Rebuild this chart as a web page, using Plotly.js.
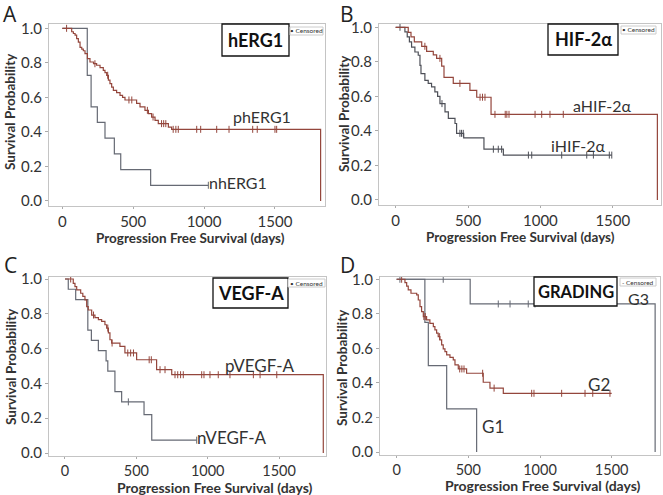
<!DOCTYPE html>
<html><head><meta charset="utf-8">
<script src="https://cdn.plot.ly/plotly-3.0.1.min.js"></script>
<style>html,body{margin:0;padding:0;background:#fff}#chart{width:663px;height:495px}</style>
</head><body><div id="chart"></div>
<script>
// ---------- Panel A: hERG1 ----------
const phERG1_t = [0, 66, 78, 90, 101, 113, 125, 137, 148, 160, 177, 195, 220, 242, 266, 289, 301, 313, 325, 336, 348, 360, 383, 407, 425, 442, 524, 548, 583, 607, 630, 654, 677, 748, 771, 1822];
const phERG1_s = [1, 0.98, 0.97, 0.96, 0.94, 0.92, 0.89, 0.88, 0.87, 0.853, 0.824, 0.805, 0.795, 0.786, 0.772, 0.757, 0.743, 0.728, 0.70, 0.68, 0.66, 0.641, 0.627, 0.612, 0.60, 0.585, 0.565, 0.545, 0.525, 0.506, 0.486, 0.467, 0.448, 0.428, 0.415, 0];
const phERG1_cens = [30, 230, 320, 470, 490, 600, 640, 700, 715, 730, 782, 801, 818, 948, 976, 1089, 1176, 1343, 1375, 1500, 1512];
const nhERG1_t = [0, 176, 203, 247, 301, 367, 412, 623, 1030];
const nhERG1_s = [1, 0.727, 0.545, 0.455, 0.364, 0.273, 0.182, 0.091, 0.091];
const nhERG1_cens = [1030];

// ---------- Panel B: HIF-2α ----------
const aHIF_t = [0, 87, 106, 129, 180, 214, 260, 283, 318, 334, 398, 513, 560, 659, 1808];
const aHIF_s = [1, 0.97, 0.945, 0.915, 0.89, 0.86, 0.84, 0.82, 0.775, 0.71, 0.675, 0.635, 0.595, 0.496, 0];
const aHIF_cens = [202, 306, 444, 583, 600, 617, 686, 757, 768, 783, 963, 1009, 1066, 1158];
const iHIF_t = [0, 64, 80, 95, 110, 133, 156, 168, 175, 202, 225, 248, 271, 290, 306, 341, 364, 410, 421, 470, 610, 744, 1493];
const iHIF_s = [1, 0.973, 0.945, 0.915, 0.885, 0.857, 0.838, 0.78, 0.732, 0.693, 0.675, 0.655, 0.626, 0.60, 0.558, 0.51, 0.472, 0.443, 0.386, 0.36, 0.294, 0.26, 0.26];
const iHIF_cens = [30, 320, 444, 455, 467, 675, 709, 732, 917, 940, 1147, 1320, 1366, 1476, 1493];

// ---------- Panel C: VEGF-A ----------
const pVEGF_t = [0, 58, 70, 82, 110, 125, 140, 152, 163, 187, 210, 234, 257, 280, 292, 304, 315, 327, 385, 420, 502, 642, 748, 1810];
const pVEGF_s = [1, 0.975, 0.956, 0.937, 0.918, 0.90, 0.88, 0.841, 0.822, 0.793, 0.778, 0.767, 0.756, 0.737, 0.718, 0.69, 0.651, 0.632, 0.613, 0.575, 0.536, 0.479, 0.45, 0];
const pVEGF_cens = [40, 200, 300, 330, 440, 460, 480, 590, 605, 666, 701, 771, 790, 810, 829, 958, 974, 1016, 1074, 1156, 1320, 1367, 1484];
const nVEGF_t = [0, 23, 75, 160, 185, 234, 288, 300, 350, 397, 554, 608, 923];
const nVEGF_s = [1, 0.941, 0.882, 0.706, 0.647, 0.588, 0.529, 0.471, 0.353, 0.294, 0.221, 0.074, 0.074];
const nVEGF_cens = [444, 923];

// ---------- Panel D: GRADING ----------
const G3_t = [0, 513, 1803];
const G3_s = [1, 0.857, 0];
const G3_cens = [23, 325, 709, 791, 918, 965];
const G1_t = [0, 197, 221, 349, 558];
const G1_s = [1, 0.75, 0.5, 0.25, 0];
const G1_cens = [];
const G2_t = [0, 58, 70, 81, 100, 140, 151, 163, 174, 186, 209, 232, 256, 267, 279, 290, 302, 314, 325, 337, 349, 372, 395, 407, 430, 488, 604, 651, 744, 1500];
const G2_s = [1, 0.98, 0.96, 0.938, 0.919, 0.909, 0.88, 0.841, 0.813, 0.784, 0.765, 0.745, 0.726, 0.707, 0.688, 0.668, 0.649, 0.62, 0.597, 0.581, 0.562, 0.548, 0.533, 0.504, 0.481, 0.456, 0.404, 0.37, 0.34, 0.34];
const G2_cens = [35, 190, 200, 300, 440, 455, 470, 600, 680, 942, 958, 1151, 1314, 1368, 1488];

const xTicks = [0, 500, 1000, 1500];
const yTicks = [0, 0.2, 0.4, 0.6, 0.8, 1.0];
const yTickText = ['0.0', '0.2', '0.4', '0.6', '0.8', '1.0'];

const RED = '#94463c', GRAY = '#666a74', DARK = '#4e5058';
const FONT = 'Lato, "Open Sans", sans-serif';

function survAt(t, s, c) {
  let v = s[0];
  for (let i = 0; i < t.length; i++) { if (t[i] <= c) v = s[i]; }
  return v;
}
const traces = [];
function km(t, s, cens, color, ax) {
  traces.push({x: t, y: s, xaxis: 'x' + ax, yaxis: 'y' + ax, type: 'scatter', mode: 'lines',
    line: {shape: 'hv', color: color, width: 1.2}, hoverinfo: 'skip'});
  if (cens.length) traces.push({x: cens, y: cens.map(c => survAt(t, s, c)), xaxis: 'x' + ax, yaxis: 'y' + ax,
    type: 'scatter', mode: 'markers',
    marker: {symbol: 'line-ns-open', size: 5, color: color, line: {color: color, width: 1}}, hoverinfo: 'skip'});
}
km(nhERG1_t, nhERG1_s, nhERG1_cens, GRAY, '');
km(phERG1_t, phERG1_s, phERG1_cens, RED, '');
km(iHIF_t, iHIF_s, iHIF_cens, DARK, '2');
km(aHIF_t, aHIF_s, aHIF_cens, RED, '2');
km(nVEGF_t, nVEGF_s, nVEGF_cens, GRAY, '3');
km(pVEGF_t, pVEGF_s, pVEGF_cens, RED, '3');
km(G3_t, G3_s, G3_cens, GRAY, '4');
km(G1_t, G1_s, G1_cens, GRAY, '4');
km(G2_t, G2_s, G2_cens, RED, '4');

const W = 663, H = 495;
const px = x => x / W, py = y => 1 - y / H;
function xax(l, r, range, fs) {
  return {domain: [px(l), px(r)], range: range, tickvals: xTicks, showgrid: false, zeroline: false,
    showline: true, mirror: true, linecolor: '#c4c4c4', linewidth: 1, ticks: 'outside', ticklen: 2,
    tickcolor: '#aaa', tickfont: {family: FONT, size: fs, color: '#333'}};
}
function yax(t, b, range, anchor) {
  return {domain: [py(b), py(t)], range: range, tickvals: yTicks, ticktext: yTickText, showgrid: false,
    zeroline: false, showline: true, mirror: true, linecolor: '#c4c4c4', linewidth: 1, ticks: 'outside',
    ticklen: 3, tickcolor: '#aaa', tickfont: {family: FONT, size: 15, color: '#333'}, anchor: anchor};
}
const layout = {
  width: W, height: H, margin: {l: 0, r: 0, t: 0, b: 0}, showlegend: false,
  paper_bgcolor: '#fff', plot_bgcolor: '#fff',
  xaxis: Object.assign(xax(49, 325, [-94, 1853], 15), {anchor: 'y'}),
  yaxis: yax(24, 206, [-0.029, 1.025], 'x'),
  xaxis2: Object.assign(xax(379, 661, [-115, 1833], 15), {anchor: 'y2'}),
  yaxis2: yax(24, 205, [-0.029, 1.019], 'x2'),
  xaxis3: Object.assign(xax(49, 326, [-112, 1829], 14.5), {anchor: 'y3'}),
  yaxis3: yax(277, 456, [-0.017, 1.0115], 'x3'),
  xaxis4: Object.assign(xax(380, 660, [-116, 1837], 14.5), {anchor: 'y4'}),
  yaxis4: yax(277, 455, [-0.017, 1.013], 'x4'),
  shapes: [], annotations: []
};
function box(l, t, r, b, color, w) {
  layout.shapes.push({type: 'rect', xref: 'paper', yref: 'paper', x0: px(l), x1: px(r), y0: py(b), y1: py(t),
    line: {color: color, width: w}, fillcolor: '#fff', layer: 'above'});
}
function txt(text, x, y, size, opts) {
  layout.annotations.push(Object.assign({text: text, x: px(x), y: py(y), xref: 'paper', yref: 'paper',
    xanchor: 'center', yanchor: 'middle', showarrow: false, borderpad: 0,
    font: {family: FONT, size: size, color: '#333'}}, opts || {}));
}
// panel letters
const LF = {family: '"Open Sans", sans-serif', size: 21, color: '#222'};
txt('A', 10, 14, 21, {font: LF});
txt('B', 347, 14, 21, {font: LF});
txt('C', 10, 265, 21, {font: LF});
txt('D', 347, 265, 21, {font: LF});
// axis titles
const XT = '<b>Progression Free Survival (days)</b>', YT = '<b>Survival Probability</b>';
txt(XT, 190, 238, 13.5);
txt(XT, 520, 237, 13.5);
txt(XT, 215, 487, 14);
txt(XT, 543, 485, 14);
txt(YT, 10, 112, 13.5, {textangle: -90});
txt(YT, 344, 114, 13.5, {textangle: -90});
txt(YT, 11, 367, 13.5, {textangle: -90});
txt(YT, 342, 368, 13.5, {textangle: -90});
// marker label boxes
const BF = s => ({family: FONT, size: s, color: '#111'});
box(222, 24, 289, 56, '#111', 1.3); txt('<b>hERG1</b>', 255.5, 40, 18, {font: BF(18)});
box(548, 24, 618, 55, '#111', 1.3); txt('<b>HIF-2α</b>', 583, 39.5, 18, {font: BF(18)});
box(213, 278, 288, 308, '#111', 1.3); txt('<b>VEGF-A</b>', 250.5, 293, 18, {font: BF(18)});
box(534, 277, 617, 306, '#111', 1.3); txt('<b>GRADING</b>', 575.5, 291.5, 16.5, {font: BF(16.5)});
// censored legends
box(290, 27, 323, 35, '#ccc', 1); txt('• Censored', 306.5, 31, 6.5);
box(621, 26, 656, 34, '#ccc', 1); txt('• Censored', 638.5, 30, 6.5);
box(288, 279, 325, 287, '#ccc', 1); txt('• Censored', 306.5, 283, 6.5);
box(620, 278, 656, 286, '#ccc', 1); txt('- Censored', 638, 282, 6.5);
// curve labels
txt('phERG1', 262, 117, 16);
txt('nhERG1', 238, 183, 16);
txt('aHIF-2α', 602.5, 105, 16);
txt('iHIF-2α', 577.5, 145, 16);
txt('pVEGF-A', 259, 365, 17);
txt('nVEGF-A', 232, 437, 17);
txt('G3', 638, 298, 16);
txt('G2', 599, 384, 17);
txt('G1', 492.5, 426, 17);

Plotly.newPlot('chart', traces, layout, {staticPlot: true, displayModeBar: false});
</script></body></html>
